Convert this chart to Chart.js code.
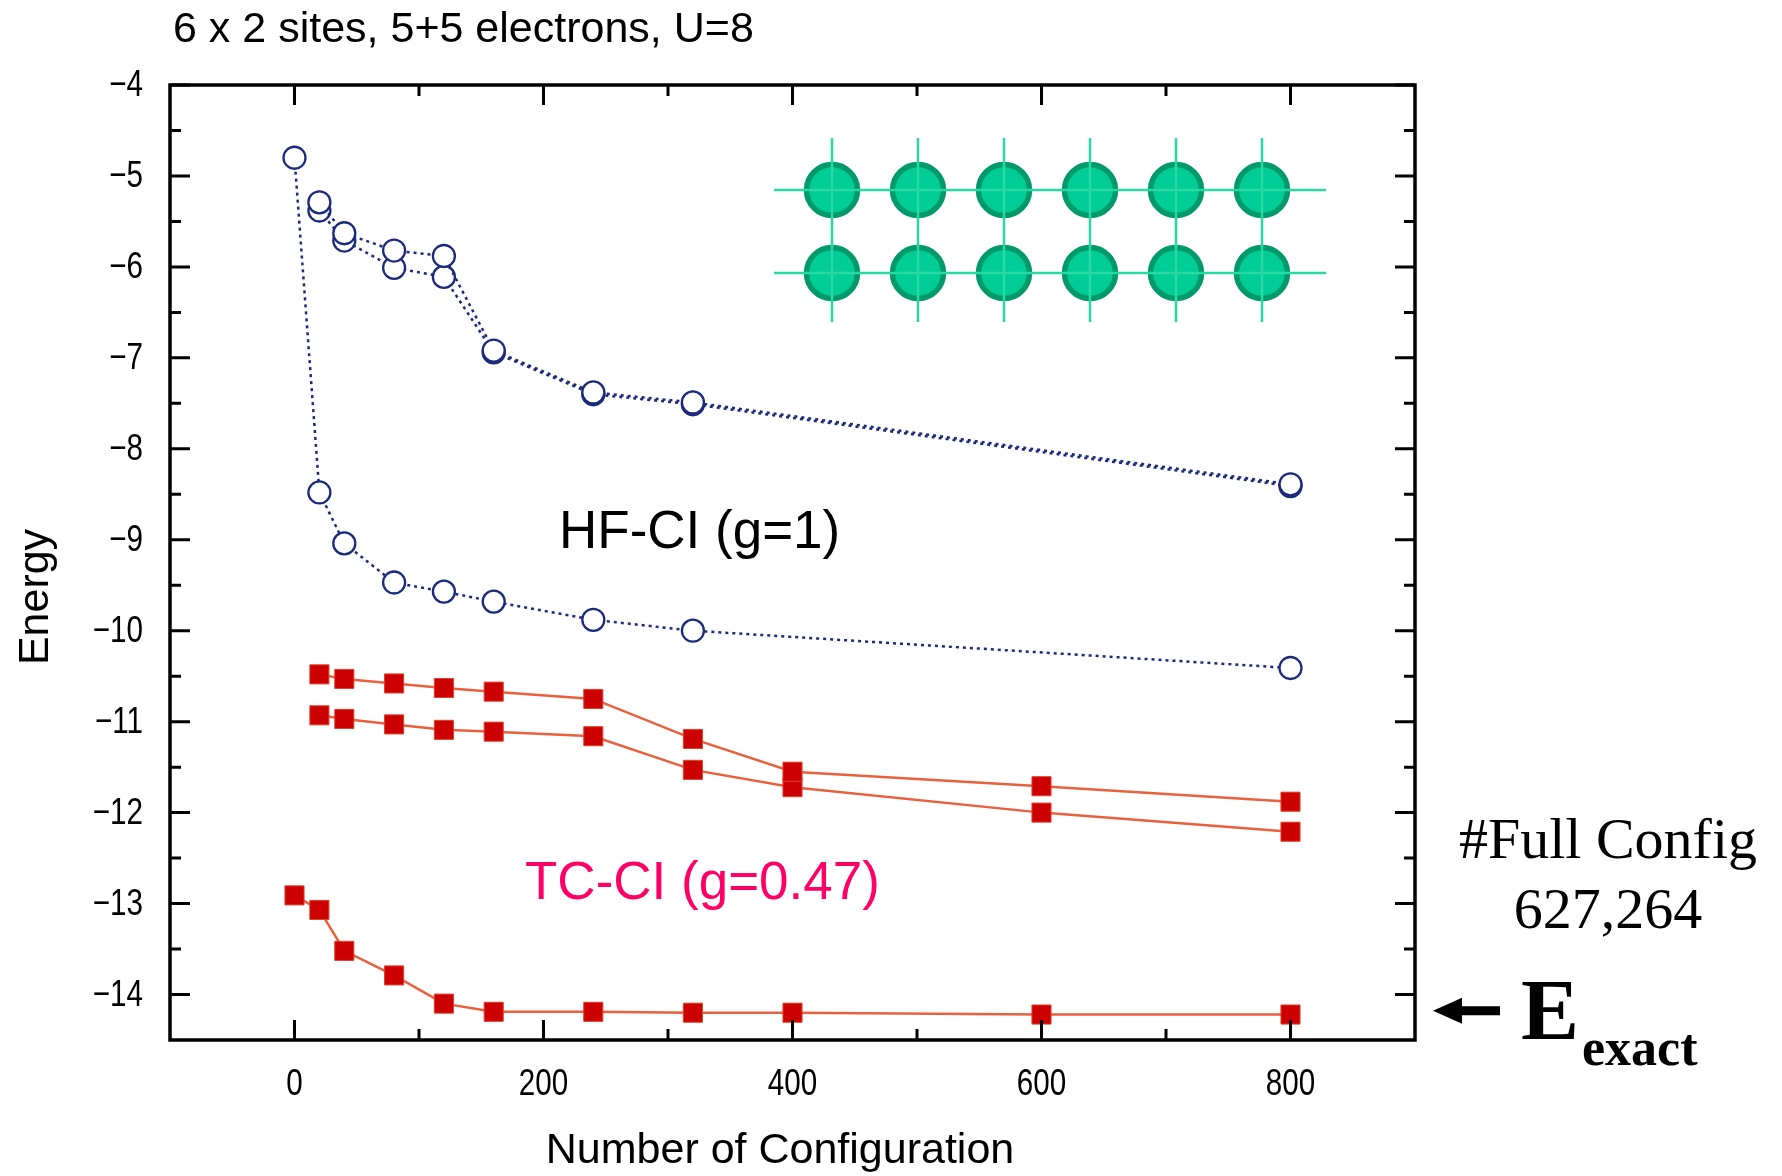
<!DOCTYPE html>
<html lang="en">
<head>
<meta charset="UTF-8">
<title>6 x 2 sites, 5+5 electrons, U=8</title>
<style>
  html, body { margin: 0; padding: 0; background: #fff; }
  #wrap { width: 1782px; height: 1176px; }
</style>
</head>
<body>
<div id="wrap"><canvas id="energyChart" width="1782" height="1176"></canvas></div>
<script src="https://cdn.jsdelivr.net/npm/chart.js"></script>
<script>
// number of configurations (x) and energies (y)
const hfConfigsMain  = [0, 20, 40, 80, 120, 160, 240, 320, 800];
const hfEnergyMain   = [-4.80, -8.48, -9.04, -9.47, -9.57, -9.68, -9.88, -10.00, -10.41];
const hfConfigsUpper = [20, 40, 80, 120, 160, 240, 320, 800];
const hfEnergyUpperA = [-5.29, -5.63, -5.82, -5.88, -6.92, -7.38, -7.49, -8.39];
const hfEnergyUpperB = [-5.38, -5.71, -6.01, -6.11, -6.94, -7.40, -7.51, -8.41];

const tcConfigsUpper = [20, 40, 80, 120, 160, 240, 320, 400, 600, 800];
const tcEnergyUpperA = [-10.48, -10.53, -10.58, -10.63, -10.67, -10.75, -11.19, -11.55, -11.71, -11.88];
const tcEnergyUpperB = [-10.93, -10.97, -11.03, -11.09, -11.11, -11.16, -11.53, -11.72, -12.00, -12.21];
const tcConfigsMain  = [0, 20, 40, 80, 120, 160, 240, 320, 400, 600, 800];
const tcEnergyMain   = [-12.91, -13.07, -13.52, -13.79, -14.10, -14.19, -14.19, -14.20, -14.20, -14.22, -14.22];

const exactEnergy = -14.2;

const xTickLabels = [0, 200, 400, 600, 800];
const xMinorTicks = [100, 300, 500, 700];
const yTickLabels = [-4, -5, -6, -7, -8, -9, -10, -11, -12, -13, -14];
const yMinorTicks = [-4.5, -5.5, -6.5, -7.5, -8.5, -9.5, -10.5, -11.5, -12.5, -13.5];

const NAVY = '#1c2a7c';
const RED = '#cc0000';
const ORANGE = '#e8603c';
const sans = "'Liberation Sans', Arial, sans-serif";
const serif = "'Liberation Serif', 'Times New Roman', serif";

function pts(xs, ys) {
    return ys.map((y, i) => ({ x: xs[i], y: y }));
}

function hfSet(xs, ys) {
    return {
        data: pts(xs, ys),
        borderColor: NAVY,
        borderWidth: 2.5,
        borderDash: [3, 4],
        pointStyle: 'circle',
        pointRadius: 11,
        pointBorderWidth: 2.3,
        pointBorderColor: NAVY,
        pointBackgroundColor: '#ffffff'
    };
}

function tcSet(xs, ys) {
    return {
        data: pts(xs, ys),
        borderColor: ORANGE,
        borderWidth: 2.5,
        pointStyle: 'rect',
        pointRadius: 13.5,
        pointBorderWidth: 1,
        pointBorderColor: '#e0402a',
        pointBackgroundColor: RED
    };
}

// narrow-looking label: squeeze regular sans horizontally
function narrowText(ctx, text, x, y, align) {
    ctx.save();
    ctx.translate(x, y);
    ctx.scale(0.8, 1);
    ctx.textAlign = align;
    ctx.fillText(text, 0, 0);
    ctx.restore();
}

// frame with inward ticks on all four sides, plus tick labels
const framePlugin = {
    id: 'frame',
    afterDatasetsDraw(chart) {
        const ctx = chart.ctx;
        const a = chart.chartArea;
        const xs = chart.scales.x, ys = chart.scales.y;
        ctx.save();
        ctx.strokeStyle = '#000';
        ctx.lineWidth = 3;
        ctx.beginPath();
        const tick = (vals, len, isX) => {
            vals.forEach(v => {
                if (isX) {
                    const px = xs.getPixelForValue(v);
                    ctx.moveTo(px, a.bottom); ctx.lineTo(px, a.bottom - len);
                    ctx.moveTo(px, a.top); ctx.lineTo(px, a.top + len);
                } else {
                    const py = ys.getPixelForValue(v);
                    ctx.moveTo(a.left, py); ctx.lineTo(a.left + len, py);
                    ctx.moveTo(a.right, py); ctx.lineTo(a.right - len, py);
                }
            });
        };
        tick(xTickLabels, 20, true);
        tick(xMinorTicks, 11, true);
        tick(yTickLabels, 20, false);
        tick(yMinorTicks, 11, false);
        ctx.stroke();
        ctx.lineWidth = 3.5;
        ctx.strokeRect(a.left, a.top, a.right - a.left, a.bottom - a.top);

        ctx.fillStyle = '#000';
        ctx.font = '37px ' + sans;
        ctx.textBaseline = 'middle';
        ys.ticks.forEach(t => {
            narrowText(ctx, String(t.value).replace('-', '\u2212'), a.left - 27, ys.getPixelForValue(t.value) + 1, 'right');
        });
        xs.ticks.forEach(t => {
            narrowText(ctx, String(t.value), xs.getPixelForValue(t.value), a.bottom + 45, 'center');
        });
        ctx.restore();
    }
};

// 6 x 2 lattice sketch in the upper right of the plot
const latticePlugin = {
    id: 'lattice',
    beforeDatasetsDraw(chart) {
        const ctx = chart.ctx;
        const cols = [832, 918, 1004, 1090, 1176, 1262];
        const rows = [190, 273];
        ctx.save();
        cols.forEach(cx => rows.forEach(cy => {
            ctx.beginPath();
            ctx.arc(cx, cy, 25.5, 0, Math.PI * 2);
            ctx.fillStyle = '#00cc96';
            ctx.fill();
            ctx.lineWidth = 5.5;
            ctx.strokeStyle = '#009a6a';
            ctx.stroke();
        }));
        ctx.strokeStyle = '#2ad8a4';
        ctx.lineWidth = 2.5;
        ctx.beginPath();
        rows.forEach(cy => { ctx.moveTo(774, cy); ctx.lineTo(1326, cy); });
        cols.forEach(cx => { ctx.moveTo(cx, 138); ctx.lineTo(cx, 322); });
        ctx.stroke();
        ctx.restore();
    }
};

// titles and annotations
const textPlugin = {
    id: 'texts',
    afterDraw(chart) {
        const ctx = chart.ctx;
        const ys = chart.scales.y;
        ctx.save();
        ctx.fillStyle = '#000';
        ctx.textBaseline = 'alphabetic';

        ctx.font = '43px ' + sans;
        ctx.textAlign = 'left';
        ctx.fillText('6 x 2 sites, 5+5 electrons, U=8', 173, 42);

        ctx.font = '43px ' + sans;
        ctx.textAlign = 'center';
        ctx.fillText('Number of Configuration', 780, 1163);

        ctx.save();
        ctx.translate(48, 597);
        ctx.rotate(-Math.PI / 2);
        ctx.fillText('Energy', 0, 0);
        ctx.restore();

        ctx.font = '53px ' + sans;
        ctx.textAlign = 'left';
        ctx.fillText('HF-CI (g=1)', 559, 548);
        ctx.fillStyle = '#ff0066';
        ctx.fillText('TC-CI (g=0.47)', 525, 899);

        ctx.fillStyle = '#000';
        ctx.font = '58px ' + serif;
        ctx.textAlign = 'center';
        ctx.fillText('#Full Config', 1608, 858);
        ctx.fillText('627,264', 1608, 928);

        // arrow pointing at the exact energy
        const ay = ys.getPixelForValue(exactEnergy) - 2;
        ctx.beginPath();
        ctx.moveTo(1433, ay);
        ctx.lineTo(1462, ay - 13);
        ctx.lineTo(1462, ay - 4.5);
        ctx.lineTo(1500, ay - 4.5);
        ctx.lineTo(1500, ay + 4.5);
        ctx.lineTo(1462, ay + 4.5);
        ctx.lineTo(1462, ay + 13);
        ctx.closePath();
        ctx.fill();

        ctx.textAlign = 'left';
        ctx.font = 'bold 87px ' + serif;
        ctx.fillText('E', 1521, 1039);
        ctx.font = 'bold 52px ' + serif;
        ctx.fillText('exact', 1582, 1065);
        ctx.restore();
    }
};

const ctx = document.getElementById('energyChart').getContext('2d');
const energyChart = new Chart(ctx, {
    type: 'line',
    data: {
        datasets: [
            hfSet(hfConfigsMain, hfEnergyMain),
            hfSet(hfConfigsUpper, hfEnergyUpperA),
            hfSet(hfConfigsUpper, hfEnergyUpperB),
            tcSet(tcConfigsUpper, tcEnergyUpperA),
            tcSet(tcConfigsUpper, tcEnergyUpperB),
            tcSet(tcConfigsMain, tcEnergyMain)
        ]
    },
    options: {
        responsive: false,
        animation: false,
        layout: { padding: { left: 0, right: 367, top: 85, bottom: 0 } },
        plugins: {
            legend: { display: false },
            tooltip: { enabled: false }
        },
        scales: {
            x: {
                type: 'linear',
                min: -100,
                max: 900,
                afterBuildTicks: s => { s.ticks = xTickLabels.map(v => ({ value: v })); },
                afterFit: s => { s.height = 136; },
                grid: { display: false, drawTicks: false },
                border: { display: false },
                ticks: { display: false }
            },
            y: {
                type: 'linear',
                min: -14.5,
                max: -4,
                afterBuildTicks: s => { s.ticks = yTickLabels.map(v => ({ value: v })); },
                afterFit: s => { s.width = 170; },
                grid: { display: false, drawTicks: false },
                border: { display: false },
                ticks: { display: false }
            }
        }
    },
    plugins: [latticePlugin, framePlugin, textPlugin]
});
</script>
</body>
</html>
